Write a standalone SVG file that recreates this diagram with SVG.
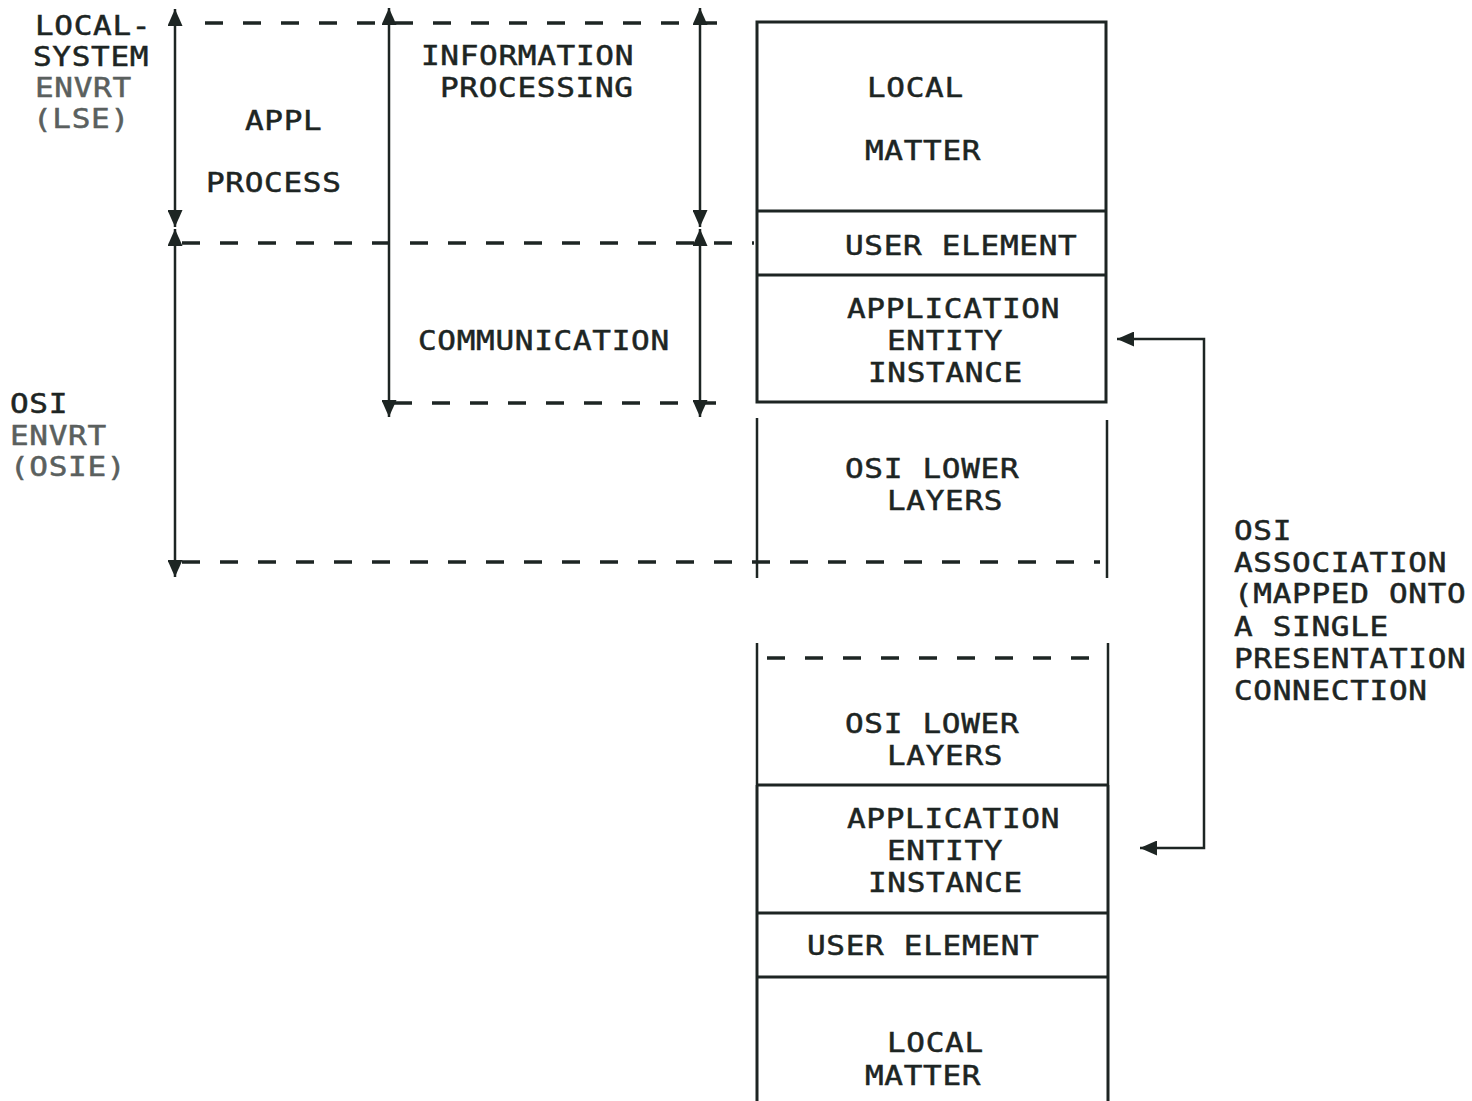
<svg xmlns="http://www.w3.org/2000/svg" width="1472" height="1101" viewBox="0 0 1472 1101">
  <defs>
    <style>
      .t { font-family: "DejaVu Sans Mono", "Liberation Mono", monospace; font-size: 27px; letter-spacing: 0.6px; fill: #1d2523; stroke: #1d2523; stroke-width: 0.5px; transform-box: fill-box; transform-origin: 0 50%; transform: scaleX(1.15); }
      .faint { fill: #5a605e; stroke: #5a605e; }
      .box { fill: none; stroke: #1d2523; stroke-width: 3; }
      .edge { fill: none; stroke: #1d2523; stroke-width: 2.5; }
      .dash { fill: none; stroke: #1d2523; stroke-width: 3.5; stroke-dasharray: 18 20; }
      .arrow { fill: none; stroke: #1d2523; stroke-width: 2.5; marker-start: url(#head); marker-end: url(#head); }
    </style>
    <marker id="head" markerUnits="userSpaceOnUse" markerWidth="17" markerHeight="15" refX="17" refY="7.5" orient="auto-start-reverse" viewBox="0 0 17 15">
      <path d="M0,0 L17,7.5 L0,15 Z" fill="#1d2523"/>
    </marker>
  </defs>

  <rect width="1472" height="1101" fill="#ffffff"/>

  <!-- side labels -->
  <g id="lse-label">
    <text class="t" x="35" y="35">LOCAL-</text>
    <text class="t" x="33" y="66">SYSTEM</text>
    <text class="t faint" x="35" y="97">ENVRT</text>
    <text class="t faint" x="33" y="128">(LSE)</text>
  </g>
  <g id="osie-label">
    <text class="t" x="10" y="413">OSI</text>
    <text class="t faint" x="10" y="445">ENVRT</text>
    <text class="t faint" x="10" y="476">(OSIE)</text>
  </g>
  <g id="appl-process">
    <text class="t" x="245" y="130">APPL</text>
    <text class="t" x="206" y="192">PROCESS</text>
  </g>
  <g id="information-processing">
    <text class="t" x="421" y="65">INFORMATION</text>
    <text class="t" x="440" y="97">PROCESSING</text>
  </g>
  <g id="communication">
    <text class="t" x="418" y="350">COMMUNICATION</text>
  </g>
  <g id="association-label">
    <text class="t" x="1234" y="540">OSI</text>
    <text class="t" x="1234" y="572">ASSOCIATION</text>
    <text class="t" x="1234" y="603">(MAPPED ONTO</text>
    <text class="t" x="1234" y="636">A SINGLE</text>
    <text class="t" x="1234" y="668">PRESENTATION</text>
    <text class="t" x="1234" y="700">CONNECTION</text>
  </g>

  <!-- upper system stack -->
  <g id="upper-local-matter">
    <path class="box" d="M757,211 V22 H1106 V211"/>
    <text class="t" x="867" y="97">LOCAL</text>
    <text class="t" x="865" y="160">MATTER</text>
  </g>
  <g id="upper-user-element">
    <path class="box" d="M757,211 H1106 M757,211 V275 M1106,211 V275"/>
    <text class="t" x="845" y="255">USER ELEMENT</text>
  </g>
  <g id="upper-ae-instance">
    <path class="box" d="M757,275 H1106 M757,275 V402 H1106 V275"/>
    <text class="t" x="847" y="318">APPLICATION</text>
    <text class="t" x="887" y="350">ENTITY</text>
    <text class="t" x="868" y="382">INSTANCE</text>
  </g>
  <g id="upper-lower-layers">
    <path class="edge" d="M757,418 V578 M1107,420 V578"/>
    <text class="t" x="845" y="478">OSI LOWER</text>
    <text class="t" x="887" y="510">LAYERS</text>
  </g>

  <!-- lower system stack -->
  <g id="lower-lower-layers">
    <path class="edge" d="M757,643 V785 M1108,643 V785"/>
    <path class="dash" d="M767,658 H1100"/>
    <text class="t" x="845" y="733">OSI LOWER</text>
    <text class="t" x="887" y="765">LAYERS</text>
  </g>
  <g id="lower-ae-instance">
    <path class="box" d="M757,785 H1108 M757,785 V913 M1108,785 V913"/>
    <text class="t" x="847" y="828">APPLICATION</text>
    <text class="t" x="887" y="860">ENTITY</text>
    <text class="t" x="868" y="892">INSTANCE</text>
  </g>
  <g id="lower-user-element">
    <path class="box" d="M757,913 H1108 M757,913 V977 M1108,913 V977"/>
    <text class="t" x="807" y="955">USER ELEMENT</text>
  </g>
  <g id="lower-local-matter">
    <path class="box" d="M757,977 H1108 M757,977 V1101 M1108,977 V1101"/>
    <text class="t" x="887" y="1052">LOCAL</text>
    <text class="t" x="865" y="1085">MATTER</text>
  </g>

  <!-- boundaries and extent arrows -->
  <g id="connectors">
    <path class="dash" d="M205,23 H728"/>
    <path class="dash" d="M182,243 H754"/>
    <path class="dash" d="M394,403 H728"/>
    <path class="dash" d="M182,562 H1100"/>

    <line class="arrow" x1="175" y1="227" x2="175" y2="9"/>
    <line class="arrow" x1="175" y1="229" x2="175" y2="577"/>
    <line class="arrow" x1="389" y1="8" x2="389" y2="417"/>
    <line class="arrow" x1="700" y1="227" x2="700" y2="8"/>
    <line class="arrow" x1="700" y1="229" x2="700" y2="417"/>

    <path class="arrow" d="M1117,339 H1204 V848 H1140"/>
  </g>
</svg>
